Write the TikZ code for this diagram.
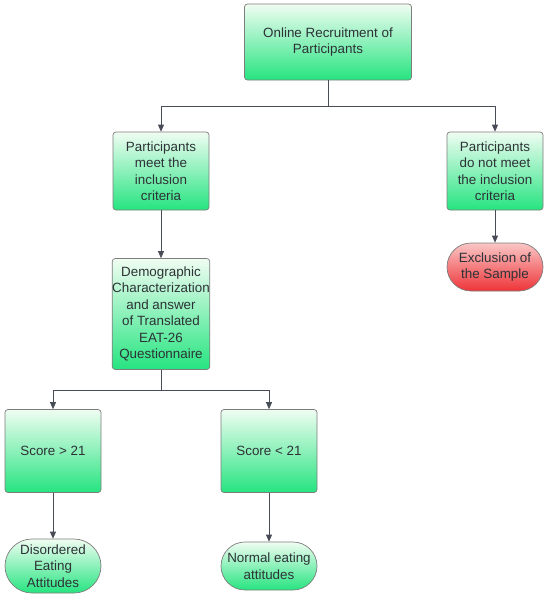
\documentclass[tikz,border=0pt]{standalone}
\usepackage{fontspec}
\setmainfont{Liberation Sans}
\usetikzlibrary{arrows.meta,positioning,shapes.misc}
\definecolor{MintTop}{RGB}{240,253,242}
\definecolor{MintBottom}{RGB}{38,228,128}
\definecolor{RoseTop}{RGB}{250,198,198}
\definecolor{RoseBottom}{RGB}{238,52,56}
\definecolor{EdgeGray}{RGB}{125,125,125}
\definecolor{LinkGray}{RGB}{72,76,86}
\definecolor{InkGray}{RGB}{45,50,55}

\begin{document}
\begin{tikzpicture}[x=1pt,y=-1pt,>={Triangle[length=7pt,width=6pt]},
 font=\fontsize{13.4}{16.5}\selectfont,
 stepbox/.style={draw=EdgeGray,line width=0.7pt,rounded corners=3pt,top color=MintTop,
  bottom color=MintBottom,text=InkGray,align=center,inner xsep=0pt,
  minimum width=96pt,minimum height=78pt},
 pill/.style={rounded rectangle,draw=EdgeGray,line width=0.7pt,top color=MintTop,
  bottom color=MintBottom,text=InkGray,align=center,inner xsep=0pt,
  minimum width=96pt,minimum height=48pt},
 link/.style={draw=LinkGray,line width=0.7pt}]
\useasboundingbox (0,0) rectangle (550,598);
\node[stepbox,minimum width=167pt,minimum height=76pt] (recruit) at (328,42)
 {Online Recruitment of\\Participants};
\node[stepbox] (meet) at (161,171) {Participants\\meet the\\inclusion\\criteria};
\node[stepbox] (notmeet) at (495,171) {Participants\\do not meet\\the inclusion\\criteria};
\node[pill,top color=RoseTop,bottom color=RoseBottom] (exclude) at (495,267)
 {Exclusion of\\the Sample};
\node[stepbox,minimum height=111pt] (survey) at (161,314)
 {Demographic\\Characterization\\and answer\\of Translated\\EAT-26\\Questionnaire};
\node[stepbox,minimum height=83pt] (high) at (53,451) {Score > 21};
\node[stepbox,minimum height=83pt] (low) at (269,451) {Score < 21};
\node[pill,minimum height=54pt] (disordered) at (53,566) {Disordered\\Eating\\Attitudes};
\node[pill] (normal) at (269,566) {Normal eating\\attitudes};
% branching points
\coordinate (split1) at (328,106);
\coordinate (split2) at (161,390);
\draw[link] (recruit.south) -- (split1);
\draw[link,->] (split1) -| (meet.north);
\draw[link,->] (split1) -| (notmeet.north);
\draw[link,->] (notmeet) -- (exclude);
\draw[link,->] (meet) -- (survey);
\draw[link] (survey.south) -- (split2);
\draw[link,->] (split2) -| (high.north);
\draw[link,->] (split2) -| (low.north);
\draw[link,->] (high) -- (disordered);
\draw[link,->] (low) -- (normal);
\end{tikzpicture}
\end{document}
